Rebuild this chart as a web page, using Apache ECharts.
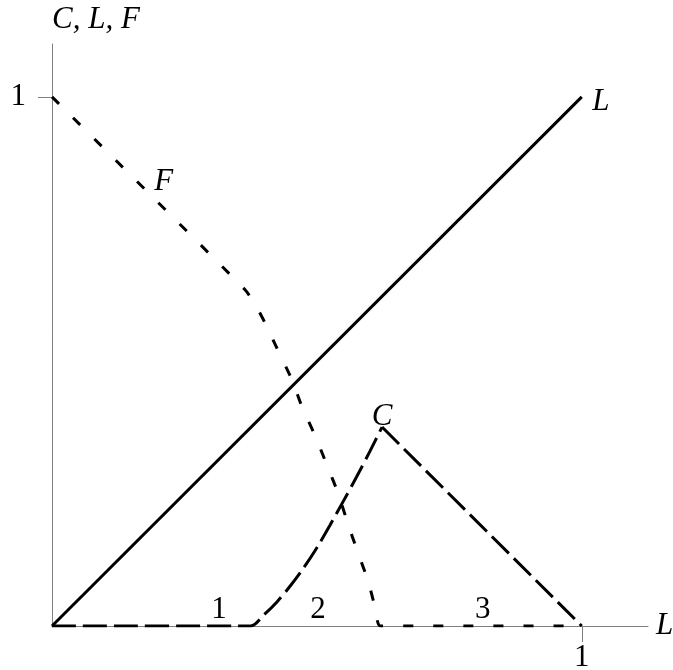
<!DOCTYPE html>
<html>
<head>
<meta charset="utf-8">
<script src="https://cdn.jsdelivr.net/npm/echarts@6/dist/echarts.min.js"></script>
<style>
  html, body { margin: 0; padding: 0; background: #fff; }
  #main { width: 673px; height: 670px; }
</style>
</head>
<body>
<div id="main"></div>
<script>
// L = L (straight line)
var lineL = [[0, 0], [1, 1]];
// F curve (short dashes)
var curveF = [[0, 1], [0.364, 0.636], [0.385, 0.605], [0.402, 0.573], [0.426, 0.522], [0.453, 0.465],
  [0.472, 0.414], [0.496, 0.361], [0.519, 0.304], [0.540, 0.251], [0.558, 0.195],
  [0.577, 0.140], [0.596, 0.087], [0.610, 0.035], [0.620, 0], [1, 0]];
// C curve (long dashes): flat part + rising curve, then falling line
var curveCRise = [[0, 0], [0.375, 0], [0.40, 0.021], [0.425, 0.046], [0.45, 0.076],
  [0.475, 0.110], [0.50, 0.148], [0.525, 0.191], [0.55, 0.236], [0.575, 0.282],
  [0.60, 0.330], [0.623, 0.376]];
var curveCFall = [[0.623, 0.376], [1, 0]];
// text labels placed in data coords
var letterNotes = [[0.211, 0.839, 'F'], [0.623, 0.395, 'C'], [1.036, 0.99, 'L']];
var regionNotes = [[0.315, 0.030, '1'], [0.502, 0.030, '2'], [0.813, 0.030, '3']];
var xTicks = [1];
var yTicks = [1];

var font = "'Liberation Serif', serif";
var axisGray = '#808080';

function noteSeries(data, italic) {
  return {
    type: 'scatter', data: data, symbolSize: 0, silent: true, z: 5,
    itemStyle: { opacity: 1 },
    label: {
      show: true, position: 'inside',
      formatter: function (p) { return p.data[2]; },
      fontFamily: font, fontSize: 31, color: '#000', opacity: 1,
      fontStyle: italic ? 'italic' : 'normal',
      textBorderWidth: 0
    }
  };
}

var chart = echarts.init(document.getElementById('main'));

var option = {
  animation: false,
  grid: { left: 52, top: 44, width: 596, height: 582, containLabel: false, outerBoundsMode: 'none' },
  xAxis: {
    type: 'value', min: 0, max: 1.125,
    name: 'L', nameLocation: 'end', nameGap: 8,
    nameTextStyle: { fontFamily: font, fontStyle: 'italic', fontSize: 31, color: '#000' },
    axisLine: { lineStyle: { color: axisGray, width: 1 } },
    axisTick: { show: true, customValues: xTicks, length: 16, lineStyle: { color: axisGray } },
    axisLabel: { customValues: xTicks, margin: 16, fontFamily: font, fontSize: 31, color: '#000' },
    splitLine: { show: false }
  },
  yAxis: {
    type: 'value', min: 0, max: 1.1,
    name: 'C, L, F', nameLocation: 'end', nameGap: 9,
    nameTextStyle: { fontFamily: font, fontStyle: 'italic', fontSize: 31, color: '#000', align: 'left' },
    axisLine: { show: true, lineStyle: { color: axisGray, width: 1 } },
    axisTick: { show: true, customValues: yTicks, length: 14, lineStyle: { color: axisGray } },
    axisLabel: { customValues: yTicks, margin: 26, fontFamily: font, fontSize: 31, color: '#000' },
    splitLine: { show: false }
  },
  series: [
    {
      name: 'L', type: 'line', data: lineL, symbol: 'none',
      lineStyle: { color: '#000', width: 3 }
    },
    {
      name: 'F', type: 'line', data: curveF, symbol: 'none', smooth: 0.2,
      lineStyle: { color: '#000', width: 3, type: [10, 20] }
    },
    {
      name: 'C', type: 'line', data: curveCRise, symbol: 'none', smooth: 0.3,
      lineStyle: { color: '#000', width: 3, type: [24, 7] }
    },
    {
      name: 'C2', type: 'line', data: curveCFall, symbol: 'none',
      lineStyle: { color: '#000', width: 3, type: [24, 7] }
    },
    noteSeries(letterNotes, true),
    noteSeries(regionNotes, false)
  ]
};

chart.setOption(option);
</script>
</body>
</html>
